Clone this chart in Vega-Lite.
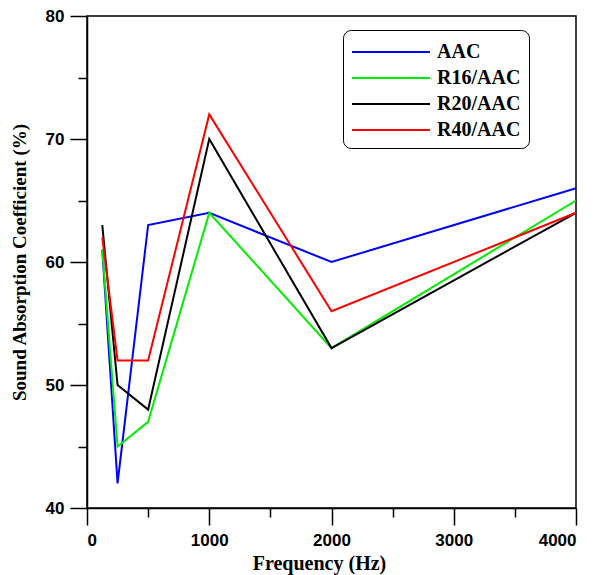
{
  "$schema": "https://vega.github.io/schema/vega-lite/v6.json",
  "width": 489,
  "height": 492,
  "autosize": "none",
  "padding": {"left": 87, "top": 16, "right": 21, "bottom": 67},
  "background": "white",
  "config": {
    "view": {"stroke": "black", "strokeWidth": 1.5},
    "axis": {"grid": false, "domainColor": "black", "domainWidth": 1.5, "tickColor": "black", "tickWidth": 1.5,
      "labelFont": "Liberation Sans", "labelFontWeight": "bold", "labelFontSize": 17, "labelColor": "black",
      "titleFont": "Liberation Serif", "titleFontWeight": "bold", "titleColor": "black", "titleFontSize": 19}
  },
  "data": {"values": [
    {"f": 125, "v": 61, "s": "AAC"},
    {"f": 250, "v": 42, "s": "AAC"},
    {"f": 500, "v": 63, "s": "AAC"},
    {"f": 1000, "v": 64, "s": "AAC"},
    {"f": 2000, "v": 60, "s": "AAC"},
    {"f": 4000, "v": 66, "s": "AAC"},
    {"f": 125, "v": 61, "s": "R16/AAC"},
    {"f": 250, "v": 45, "s": "R16/AAC"},
    {"f": 500, "v": 47, "s": "R16/AAC"},
    {"f": 1000, "v": 64, "s": "R16/AAC"},
    {"f": 2000, "v": 53, "s": "R16/AAC"},
    {"f": 4000, "v": 65, "s": "R16/AAC"},
    {"f": 125, "v": 63, "s": "R20/AAC"},
    {"f": 250, "v": 50, "s": "R20/AAC"},
    {"f": 500, "v": 48, "s": "R20/AAC"},
    {"f": 1000, "v": 70, "s": "R20/AAC"},
    {"f": 2000, "v": 53, "s": "R20/AAC"},
    {"f": 4000, "v": 64, "s": "R20/AAC"},
    {"f": 125, "v": 62, "s": "R40/AAC"},
    {"f": 250, "v": 52, "s": "R40/AAC"},
    {"f": 500, "v": 52, "s": "R40/AAC"},
    {"f": 1000, "v": 72, "s": "R40/AAC"},
    {"f": 2000, "v": 56, "s": "R40/AAC"},
    {"f": 4000, "v": 64, "s": "R40/AAC"}
  ]},
  "layer": [
    {
      "mark": {"type": "line", "strokeWidth": 2},
      "encoding": {
        "x": {"field": "f", "type": "quantitative", "scale": {"domain": [0, 4000], "nice": false},
          "axis": {"values": [0, 1000, 2000, 3000, 4000], "format": "d", "title": "Frequency (Hz)", "titleFontSize": 20, "titleX": 232, "tickSize": 17, "labelPadding": 7, "titlePadding": 5}},
        "y": {"field": "v", "type": "quantitative", "scale": {"domain": [40, 80], "nice": false, "zero": false},
          "axis": {"values": [40, 50, 60, 70, 80], "format": "d", "title": "Sound Absorption Coefficient (%)", "tickSize": 17, "labelPadding": 6, "titlePadding": 16}},
        "color": {"field": "s", "type": "nominal",
          "scale": {"domain": ["AAC", "R16/AAC", "R20/AAC", "R40/AAC"], "range": ["#0000ff", "#00ee00", "#000000", "#ff0000"]},
          "legend": {"title": null, "orient": "none", "legendX": 256, "legendY": 14,
            "symbolType": "M-1,0H5", "symbolSize": 676, "symbolStrokeWidth": 2,
            "labelFont": "Liberation Serif", "labelFontWeight": "bold", "labelFontSize": 20, "labelColor": "black",
            "strokeColor": "black", "cornerRadius": 8, "padding": 8, "rowPadding": 2, "labelOffset": 58}}
      }
    },
    {
      "mark": {"type": "line", "opacity": 0},
      "encoding": {
        "x": {"field": "f", "type": "quantitative",
          "axis": {"values": [500, 1500, 2500, 3500], "labels": false, "title": null, "tickSize": 9, "orient": "bottom", "domain": false}},
        "y": {"field": "v", "type": "quantitative",
          "axis": {"values": [45, 55, 65, 75], "labels": false, "title": null, "tickSize": 9, "orient": "left", "domain": false}}
      }
    }
  ],
  "resolve": {"axis": {"x": "independent", "y": "independent"}}
}
